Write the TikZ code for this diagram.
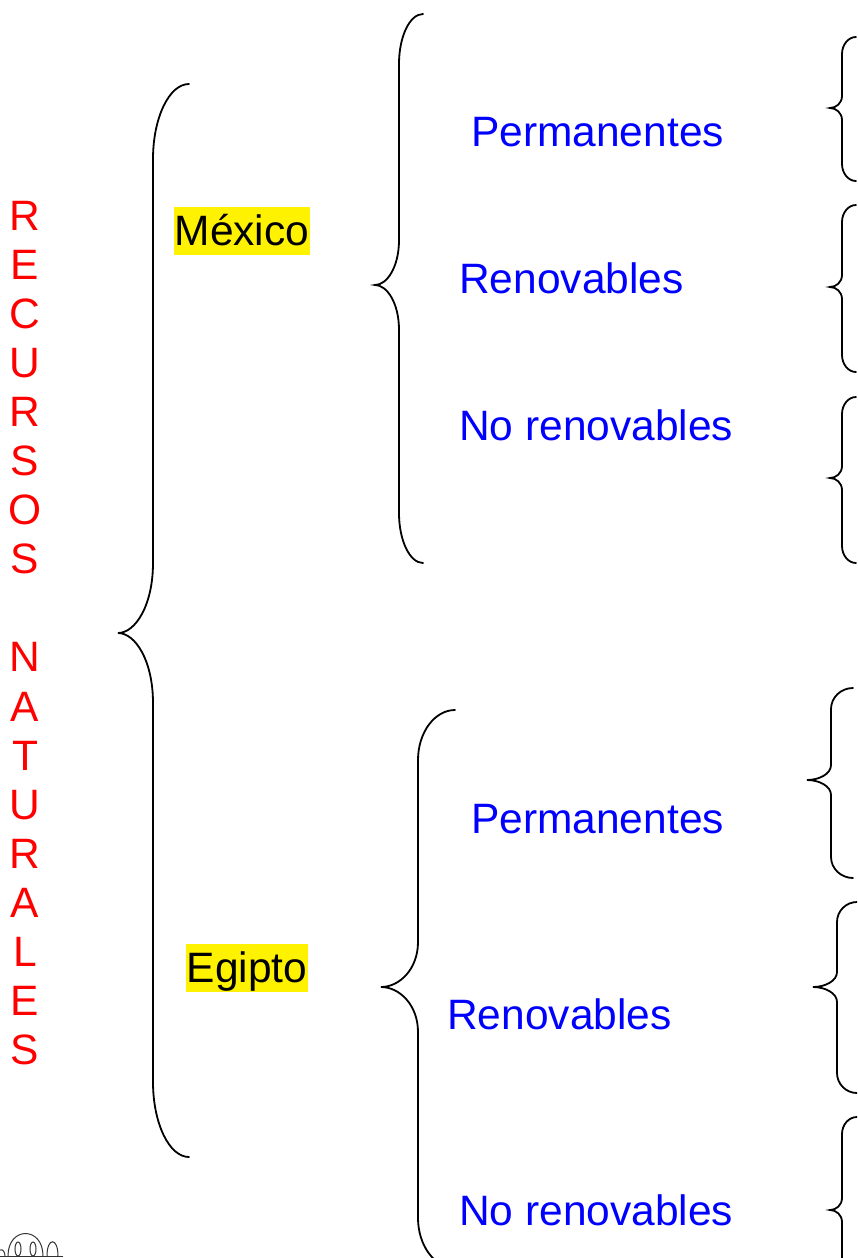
\documentclass[tikz,border=0pt]{standalone}
\usepackage{fontspec}
\setmainfont{Liberation Sans}
\newcommand\mybrc[8]{%
 \draw[brc] (#1,#4) .. controls ({#2+0.45*(#1-#2)},#4) and (#2,{#4+0.45*#7}) .. (#2,{#4+#7})
  -- (#2,{#5-#8}) .. controls (#2,{#5-0.4*#8}) and ({#3+0.5*(#2-#3)},#5) .. (#3,#5)
  .. controls ({#3+0.5*(#2-#3)},#5) and (#2,{#5+0.4*#8}) .. (#2,{#5+#8})
  -- (#2,{#6-#7}) .. controls (#2,{#6-0.45*#7}) and ({#2+0.45*(#1-#2)},#6) .. (#1,#6);}
\begin{document}
\begin{tikzpicture}[x=1pt,y=-1pt,
  lbl/.style={font=\fontsize{42.5}{49}\selectfont, inner sep=0pt, anchor=base west},
  bluelbl/.style={lbl, text=blue},
  country/.style={lbl, fill=yellow, text=black, text height=38.5pt, text depth=9pt, inner xsep=0.5pt},
  redletter/.style={font=\fontsize{42.5}{49}\selectfont, inner sep=0pt, anchor=base, text=red},
  brc/.style={draw=black, line width=1.8pt, line cap=round},
  icon/.style={draw=black!80, line width=1pt}]
\clip (0,0) rectangle (857,1258);
\fill[white] (0,0) rectangle (857,1258);

% vertical title
\foreach \c [count=\i from 0] in {R,E,C,U,R,S,O,S}
  \node[redletter] (t\i) at (25,{230+49.1*\i}) {\c};
\foreach \c [count=\i from 9] in {N,A,T,U,R,A,L,E,S}
  \node[redletter] (t\i) at (25,{230+49.1*\i}) {\c};

% countries
\node[country] (mex) at (174,245.5) {México};
\node[country] (egi) at (186,982.5) {Egipto};

% categories
\node[bluelbl] (mperm) at (471,146) {Permanentes};
\node[bluelbl] (mren) at (459,293) {Renovables};
\node[bluelbl] (mno) at (459,440) {No renovables};
\node[bluelbl] (eperm) at (471,833) {Permanentes};
\node[bluelbl] (eren) at (447,1029) {Renovables};
\node[bluelbl] (eno) at (459,1225) {No renovables};

% braces
\mybrc{189}{153}{118}{84}{633}{1157}{75}{70}
\mybrc{423}{399}{375}{14}{285}{563}{50}{45}
\mybrc{455}{418}{381}{710}{987}{1268}{50}{45}

\mybrc{856}{842}{830}{37}{108}{181}{17}{12}
\mybrc{856}{842}{830}{205}{287}{372}{17}{12}
\mybrc{856}{842}{830}{397}{478}{563}{17}{12}
\mybrc{853}{831}{807}{688}{780}{878}{21}{15}
\mybrc{857}{837}{813}{902}{987}{1093}{20}{15}
\mybrc{857}{842}{830}{1117}{1210}{1300}{17}{12}

% clip-art fragment bottom left
\draw[icon] (0,1256) -- (63,1256);
\draw[icon] (8,1256) .. controls (8,1226) and (43,1226) .. (43,1256);
\draw[icon] (18,1249) ellipse (3 and 7);
\draw[icon] (33,1249) ellipse (3 and 7);
\draw[icon] (47,1256) .. controls (47,1237) and (58,1237) .. (58,1256);
\draw[icon] (0,1250) .. controls (3,1249) and (5,1252) .. (5,1256);
\end{tikzpicture}
\end{document}
